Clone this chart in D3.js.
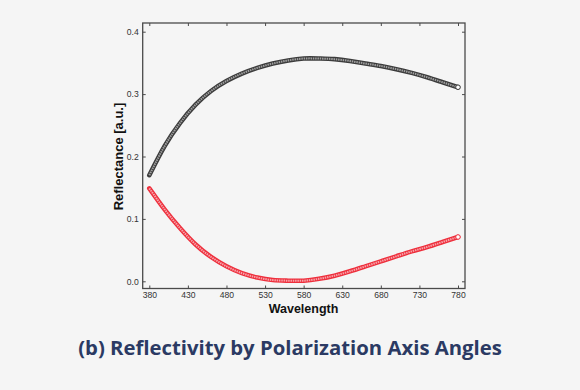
<!DOCTYPE html>
<html>
<head>
<meta charset="utf-8">
<script src="https://cdn.jsdelivr.net/npm/d3@7"></script>
<style>
  html, body { margin: 0; padding: 0; background: #f5f5f5; }
  svg { display: block; }
</style>
</head>
<body>
<svg id="chart" width="580" height="390"></svg>
<script>
const wavelengths = [380,400,420,440,460,480,500,520,540,560,580,600,620,640,660,680,700,720,740,760,780];
const blackSeries = [0.170,0.217,0.254,0.283,0.305,0.321,0.333,0.342,0.349,0.354,0.357,0.357,0.356,0.353,0.349,0.345,0.340,0.334,0.327,0.319,0.311];
const redSeries   = [0.149,0.115,0.085,0.059,0.039,0.024,0.013,0.006,0.002,0.001,0.001,0.004,0.009,0.016,0.024,0.032,0.040,0.048,0.055,0.063,0.071];
const xTicks = [380,430,480,530,580,630,680,730,780];
const yTicks = [0.0,0.1,0.2,0.3,0.4];
const xLabel = "Wavelength";
const yLabel = "Reflectance [a.u.]";
const title = "(b) Reflectivity by Polarization Axis Angles";

const svg = d3.select("#chart");
const frame = {left: 142.7, right: 465, top: 23, bottom: 288.5};

const x = d3.scaleLinear().domain([380, 780]).range([149.3, 458]);
const y = d3.scaleLinear().domain([0, 0.4]).range([281.3, 31.7]);

svg.append("rect").attr("width", 580).attr("height", 390).attr("fill", "#f5f5f5");

svg.append("rect")
  .attr("x", frame.left).attr("y", frame.top)
  .attr("width", frame.right - frame.left).attr("height", frame.bottom - frame.top)
  .attr("fill", "none").attr("stroke", "#4a4a4a").attr("stroke-width", 1.3);

const tickFont = "'Liberation Sans', Arial, sans-serif";

function styleAxis(g, showText) {
  g.select(".domain").remove();
  g.selectAll(".tick line").attr("stroke", "#4a4a4a").attr("stroke-width", 1);
  g.selectAll(".tick text")
    .attr("fill", "#333")
    .style("font-family", tickFont)
    .style("font-size", "8.6px");
  if (!showText) g.selectAll(".tick text").remove();
}

const fmtX = d3.format("d");
const fmtY = d3.format(".1f");

svg.append("g").attr("transform", `translate(0,${frame.bottom})`)
  .call(d3.axisBottom(x).tickValues(xTicks).tickFormat(fmtX).tickSizeInner(-3).tickSizeOuter(0).tickPadding(3))
  .call(g => styleAxis(g, true));
svg.append("g").attr("transform", `translate(0,${frame.top})`)
  .call(d3.axisTop(x).tickValues(xTicks).tickSizeInner(-3).tickSizeOuter(0))
  .call(g => styleAxis(g, false));
svg.append("g").attr("transform", `translate(${frame.left},0)`)
  .call(d3.axisLeft(y).tickValues(yTicks).tickFormat(fmtY).tickSizeInner(-3).tickSizeOuter(0).tickPadding(4))
  .call(g => styleAxis(g, true));
svg.append("g").attr("transform", `translate(${frame.right},0)`)
  .call(d3.axisRight(y).tickValues(yTicks).tickSizeInner(-3).tickSizeOuter(0))
  .call(g => styleAxis(g, false));

const line = d3.line().x((d, i) => x(wavelengths[i])).y(d => y(d)).curve(d3.curveNatural);

function drawBand(values, outer, inner, endFill) {
  const g = svg.append("g");
  g.append("path").attr("d", line(values)).attr("fill", "none")
    .attr("stroke", outer).attr("stroke-width", 4.6).attr("stroke-linecap", "round");
  g.append("path").attr("d", line(values)).attr("fill", "none")
    .attr("stroke", inner).attr("stroke-width", 2).attr("stroke-dasharray", "1.5,0.8");
  const last = values.length - 1;
  g.append("circle").attr("cx", x(wavelengths[last])).attr("cy", y(values[last])).attr("r", 2.3)
    .attr("fill", endFill).attr("stroke", outer).attr("stroke-width", 1);
}
drawBand(blackSeries, "#3c3c3c", "#a0a0a0", "#ffffff");
drawBand(redSeries, "#ee2f3c", "#f7a3aa", "#ffffff");

svg.append("text")
  .attr("x", 303.5).attr("y", 313)
  .attr("text-anchor", "middle")
  .style("font-family", tickFont).style("font-weight", "bold").style("font-size", "12.5px")
  .attr("fill", "#111")
  .text(xLabel);
svg.append("text")
  .attr("transform", "translate(122.5,156.5) rotate(-90)")
  .attr("text-anchor", "middle")
  .style("font-family", tickFont).style("font-weight", "bold").style("font-size", "13px")
  .attr("fill", "#111")
  .text(yLabel);

const t = svg.append("text")
  .attr("x", 290).attr("y", 355)
  .attr("text-anchor", "middle")
  .style("font-family", "'Open Sans', Lato, sans-serif").style("font-weight", "bold").style("font-size", "20px")
  .attr("fill", "#2b3a63")
  .text(title);
const w = t.node().getComputedTextLength();
t.style("font-size", (20 * 424 / w).toFixed(2) + "px");
</script>
</body>
</html>
